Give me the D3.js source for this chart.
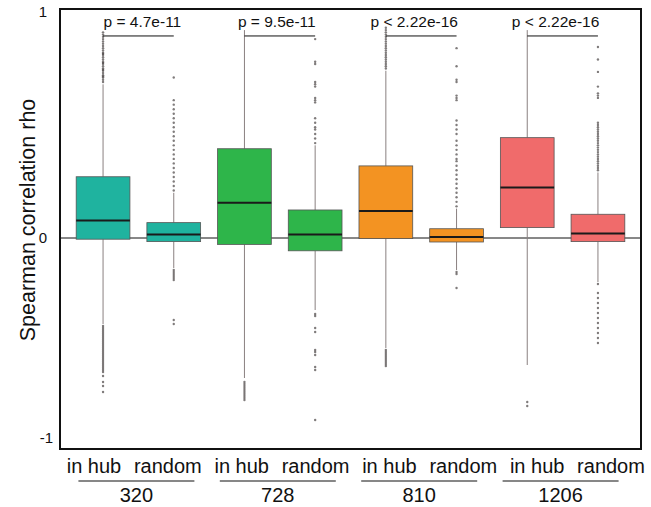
<!DOCTYPE html>
<html>
<head>
<meta charset="utf-8">
<script src="https://cdn.jsdelivr.net/npm/d3@7"></script>
<style>
  html, body { margin: 0; padding: 0; background: #fff; }
  svg { display: block; font-family: "Liberation Sans", Arial, sans-serif; }
</style>
</head>
<body>
<svg id="chart" width="651" height="507"></svg>
<script>
// Gene sets and the two kinds of gene pairs compared in each
const groups = ["320", "728", "810", "1206"];
const kinds = ["in hub", "random"];
const groupColors = ["#1fb39f", "#2eb54a", "#f39322", "#f06b6b"];

// Box statistics, ordered 320 in hub, 320 random, 728 in hub, ... 1206 random
const q1Values       = [-0.006, -0.018, -0.032, -0.064, -0.003, -0.020, 0.046, -0.018];
const medianValues   = [ 0.077,  0.016,  0.156,  0.016,  0.119,  0.004, 0.223,  0.020];
const q3Values       = [ 0.271,  0.068,  0.395,  0.124,  0.319,  0.041, 0.444,  0.105];
const whiskerLow     = [-0.43,  -0.15,  -0.70,  -0.36,  -0.55,  -0.16, -0.635, -0.22];
const whiskerHigh    = [ 0.68,   0.20,   0.92,   0.41,   0.74,   0.13,  0.92,   0.29];

// Outlying correlations beyond the whiskers
const outliers = [
  [0.69,0.70,0.71,0.715,0.72,0.73,0.74,0.745,0.75,0.76,0.77,0.775,0.78,0.79,0.80,0.81,0.815,0.82,0.83,0.84,0.85,0.86,0.87,0.88,0.89,0.90,0.91,
   -0.44,-0.45,-0.46,-0.47,-0.48,-0.49,-0.50,-0.51,-0.52,-0.53,-0.54,-0.55,-0.56,-0.57,-0.58,-0.59,-0.60,-0.61,-0.62,-0.63,-0.64,-0.65,-0.66,-0.67,-0.69,-0.72,-0.74,-0.77],
  [0.21,0.23,0.25,0.27,0.29,0.31,0.33,0.35,0.37,0.39,0.41,0.43,0.45,0.47,0.49,0.51,0.53,0.55,0.57,0.59,0.61,0.71,
   -0.16,-0.17,-0.18,-0.19,-0.20,-0.21,-0.41,-0.43],
  [-0.72,-0.73,-0.74,-0.75,-0.76,-0.77,-0.78,-0.79,-0.80,-0.81],
  [0.42,0.44,0.46,0.48,0.49,0.51,0.53,0.60,0.61,0.62,0.67,0.68,0.69,0.77,0.78,0.88,
   -0.38,-0.39,-0.45,-0.47,-0.56,-0.57,-0.585,-0.645,-0.66,-0.91],
  [0.75,0.76,0.77,0.78,0.79,0.80,0.81,0.82,0.83,0.84,0.85,0.86,0.87,0.88,0.89,0.90,0.91,0.92,0.93,
   -0.56,-0.57,-0.58,-0.59,-0.60,-0.61,-0.62,-0.63,-0.64],
  [0.14,0.16,0.18,0.20,0.22,0.24,0.26,0.28,0.30,0.32,0.34,0.35,0.37,0.39,0.41,0.43,0.46,0.48,0.50,0.52,0.61,0.62,0.63,0.69,0.70,0.76,0.84,
   -0.17,-0.18,-0.25],
  [-0.82,-0.84],
  [0.30,0.31,0.32,0.33,0.34,0.35,0.36,0.37,0.38,0.39,0.40,0.41,0.42,0.43,0.44,0.45,0.46,0.47,0.48,0.49,0.50,0.51,0.62,0.63,0.64,0.67,0.735,0.79,0.845,
   -0.23,-0.275,-0.30,-0.325,-0.35,-0.375,-0.40,-0.425,-0.45,-0.475,-0.50,-0.525]
];

// Wilcoxon test result for each gene set
const pLabels = ["p = 4.7e-11", "p = 9.5e-11", "p < 2.22e-16", "p < 2.22e-16"];
const bracketRho = 0.894;

// Y axis ticks
const yTicks = [-1, 0, 1];
const yTickLabels = ["-1", "0", "1"];
const yTitle = "Spearman correlation rho";

const svg = d3.select("#chart");
const panel = { left: 60, right: 641, top: 9, bottom: 449 };

const keys = [];
groups.forEach(g => kinds.forEach(k => keys.push(g + "|" + k)));

const boxes = keys.map((key, i) => ({
  key,
  group: key.split("|")[0],
  kind: key.split("|")[1],
  gi: Math.floor(i / 2),
  q1: q1Values[i], med: medianValues[i], q3: q3Values[i],
  lo: whiskerLow[i], hi: whiskerHigh[i],
  out: outliers[i]
}));

const x = d3.scaleBand()
  .domain(keys)
  .range([panel.left, panel.right])
  .paddingInner(0.24)
  .paddingOuter(0.229);

const y = d3.scaleLinear()
  .domain([-1, 0, 1])
  .range([438, 238, 12]);

// Category labels sit on their own evenly spaced row
const xLabel = d3.scalePoint().domain(keys).range([94, 611]);

const cx = k => x(k) + x.bandwidth() / 2;
const groupCenter = g => (cx(g + "|in hub") + cx(g + "|random")) / 2;

// Zero reference line
svg.append("line")
  .attr("x1", panel.left).attr("x2", panel.right)
  .attr("y1", y(0)).attr("y2", y(0))
  .attr("stroke", "#111").attr("stroke-width", 1);

const box = svg.append("g").selectAll("g").data(boxes).join("g");

// Whiskers
box.append("line")
  .attr("x1", d => cx(d.key)).attr("x2", d => cx(d.key))
  .attr("y1", d => y(d.hi)).attr("y2", d => y(d.q3))
  .attr("stroke", "#8a8080").attr("stroke-width", 1);
box.append("line")
  .attr("x1", d => cx(d.key)).attr("x2", d => cx(d.key))
  .attr("y1", d => y(d.q1)).attr("y2", d => y(d.lo))
  .attr("stroke", "#8a8080").attr("stroke-width", 1);

// Outliers
box.selectAll("circle").data(d => d.out.map(v => ({ v, key: d.key })))
  .join("circle")
  .attr("cx", d => cx(d.key))
  .attr("cy", d => y(d.v))
  .attr("r", 1.2)
  .attr("fill", "#4a4444")
  .attr("fill-opacity", 0.7);

// Boxes
box.append("rect")
  .attr("x", d => x(d.key))
  .attr("width", x.bandwidth())
  .attr("y", d => y(d.q3))
  .attr("height", d => y(d.q1) - y(d.q3))
  .attr("fill", d => groupColors[d.gi])
  .attr("stroke", "#555")
  .attr("stroke-width", 0.8);

// Medians
box.append("line")
  .attr("x1", d => x(d.key)).attr("x2", d => x(d.key) + x.bandwidth())
  .attr("y1", d => y(d.med)).attr("y2", d => y(d.med))
  .attr("stroke", "#1a1a1a").attr("stroke-width", 2);

// Significance brackets and p-values
const pNudge = [4, -3, -7, -7];
groups.forEach((g, i) => {
  svg.append("line")
    .attr("x1", cx(g + "|in hub")).attr("x2", cx(g + "|random"))
    .attr("y1", y(bracketRho)).attr("y2", y(bracketRho))
    .attr("stroke", "#111").attr("stroke-width", 1);
  svg.append("text")
    .attr("x", groupCenter(g) + pNudge[i])
    .attr("y", y(bracketRho) - 9)
    .attr("text-anchor", "middle")
    .attr("font-size", 15.5)
    .attr("fill", "#111")
    .text(pLabels[i]);
});

// Panel frame
svg.append("rect")
  .attr("x", panel.left).attr("y", panel.top)
  .attr("width", panel.right - panel.left)
  .attr("height", panel.bottom - panel.top)
  .attr("fill", "none")
  .attr("stroke", "#111").attr("stroke-width", 2);

// Y tick labels
svg.append("g").selectAll("text").data(yTicks).join("text")
  .attr("x", d => d < 0 ? 53 : 47)
  .attr("y", d => y(d) + 5)
  .attr("text-anchor", "end")
  .attr("font-size", 15)
  .attr("fill", "#111")
  .text((d, i) => yTickLabels[i]);

// Y title
svg.append("text")
  .attr("transform", `translate(35,${(97 + 343) / 2}) rotate(-90)`)
  .attr("text-anchor", "middle")
  .attr("font-size", 21.5)
  .attr("fill", "#111")
  .text(yTitle);

// Category labels
svg.append("g").selectAll("text").data(keys).join("text")
  .attr("x", d => xLabel(d))
  .attr("y", 473)
  .attr("text-anchor", "middle")
  .attr("font-size", 20)
  .attr("fill", "#111")
  .text(d => d.split("|")[1]);

// Gene set labels with underline rules
groups.forEach(g => {
  const c = groupCenter(g) - 2;
  svg.append("line")
    .attr("x1", c - 58).attr("x2", c + 58)
    .attr("y1", 481).attr("y2", 481)
    .attr("stroke", "#111").attr("stroke-width", 1.2);
  svg.append("text")
    .attr("x", c).attr("y", 502)
    .attr("text-anchor", "middle")
    .attr("font-size", 20)
    .attr("fill", "#111")
    .text(g);
});
</script>
</body>
</html>
